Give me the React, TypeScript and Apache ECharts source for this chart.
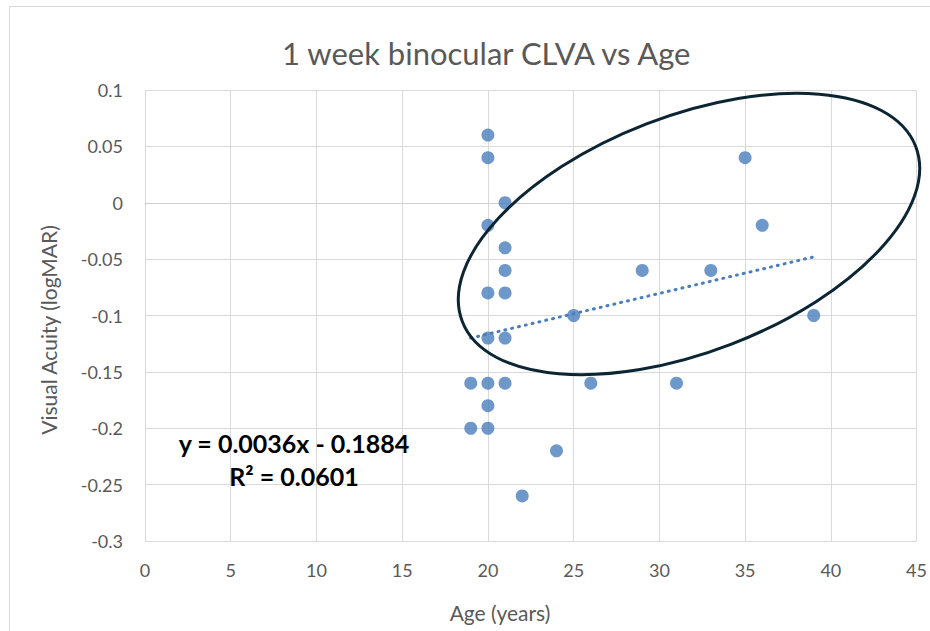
import React, { useEffect, useRef } from "react";
import * as echarts from "echarts";

const ages = [19, 19, 20, 20, 20, 20, 20, 20, 20, 20, 21, 21, 21, 21, 21, 21, 22, 24, 25, 26, 29, 31, 33, 35, 36, 39];
const acuity = [-0.16, -0.2, 0.06, 0.04, -0.02, -0.08, -0.12, -0.16, -0.18, -0.2, 0, -0.04, -0.06, -0.08, -0.12, -0.16, -0.26, -0.22, -0.1, -0.16, -0.06, -0.16, -0.06, 0.04, -0.02, -0.1];
const trendX = [19, 39];
const slope = 0.0036;
const intercept = -0.1884;
const equationText = "y = 0.0036x - 0.1884";
const r2Text = "R² = 0.0601";
const titleText = "1 week binocular CLVA vs Age";
const xName = "Age (years)";
const yName = "Visual Acuity (logMAR)";

const FONT = "Lato, 'Open Sans', sans-serif";
const GRAY = "#595959";

export default function App() {
  const ref = useRef<HTMLDivElement>(null);
  useEffect(() => {
    document.body.style.margin = "0";
    const chart = echarts.init(ref.current!, null, { renderer: "svg" });
    const points = ages.map((a, i) => [a, acuity[i]]);
    const trend = trendX.map((x) => [x, slope * x + intercept]);
    chart.setOption({
      animation: false,
      backgroundColor: "#ffffff",
      title: {
        text: titleText,
        left: 277,
        top: 32,
        textStyle: { fontFamily: FONT, fontSize: 31, fontWeight: "normal", color: GRAY },
      },
      grid: { left: 145, right: 13, top: 90, bottom: 90 },
      xAxis: {
        type: "value",
        min: 0,
        max: 45,
        interval: 5,
        axisLine: { show: true, lineStyle: { color: "#d0d0d0", width: 1 } },
        axisTick: { show: false },
        axisLabel: { fontFamily: FONT, fontSize: 18, color: GRAY, margin: 20 },
        splitLine: { show: true, lineStyle: { color: "#d9d9d9", width: 1 } },
      },
      yAxis: {
        type: "value",
        min: -0.3,
        max: 0.1,
        interval: 0.05,
        axisLine: { show: false },
        axisTick: { show: false },
        axisLabel: { fontFamily: FONT, fontSize: 18, color: GRAY, margin: 22 },
        splitLine: { show: true, lineStyle: { color: "#d9d9d9", width: 1 } },
      },
      series: [
        {
          type: "scatter",
          data: points,
          symbol: "circle",
          symbolSize: 13,
          itemStyle: { color: "#4a7ebb" },
          z: 3,
        },
        {
          type: "line",
          data: trend,
          symbol: "none",
          lineStyle: { color: "#4a7ebb", width: 3, type: [1, 6], cap: "round" },
          z: 4,
        },
      ],
      graphic: [
        {
          type: "rect",
          shape: { x: 9.5, y: 6.5, width: 1200, height: 1200 },
          style: { fill: "none", stroke: "#d9d9d9", lineWidth: 1 },
          silent: true,
        },
        {
          type: "text",
          x: 500,
          y: 612,
          style: {
            text: xName,
            align: "center",
            verticalAlign: "middle",
            font: `21px ${FONT}`,
            fill: GRAY,
          },
        },
        {
          type: "text",
          x: 48,
          y: 330,
          rotation: Math.PI / 2,
          style: {
            text: yName,
            align: "center",
            verticalAlign: "middle",
            font: `21px ${FONT}`,
            fill: GRAY,
          },
        },
        {
          type: "ellipse",
          x: 689,
          y: 234,
          rotation: 0.368,
          shape: { cx: 0, cy: 0, rx: 243, ry: 118 },
          style: { fill: "none", stroke: "#0c2533", lineWidth: 3 },
          z: 10,
        },
        {
          type: "text",
          x: 294,
          y: 443,
          style: {
            text: equationText,
            align: "center",
            verticalAlign: "middle",
            font: `bold 25px ${FONT}`,
            fill: "#000000",
          },
          z: 10,
        },
        {
          type: "text",
          x: 294,
          y: 476,
          style: {
            text: r2Text,
            align: "center",
            verticalAlign: "middle",
            font: `bold 25px ${FONT}`,
            fill: "#000000",
          },
          z: 10,
        },
      ],
    });
    return () => chart.dispose();
  }, []);
  return <div ref={ref} style={{ width: 930, height: 631 }} />;
}
